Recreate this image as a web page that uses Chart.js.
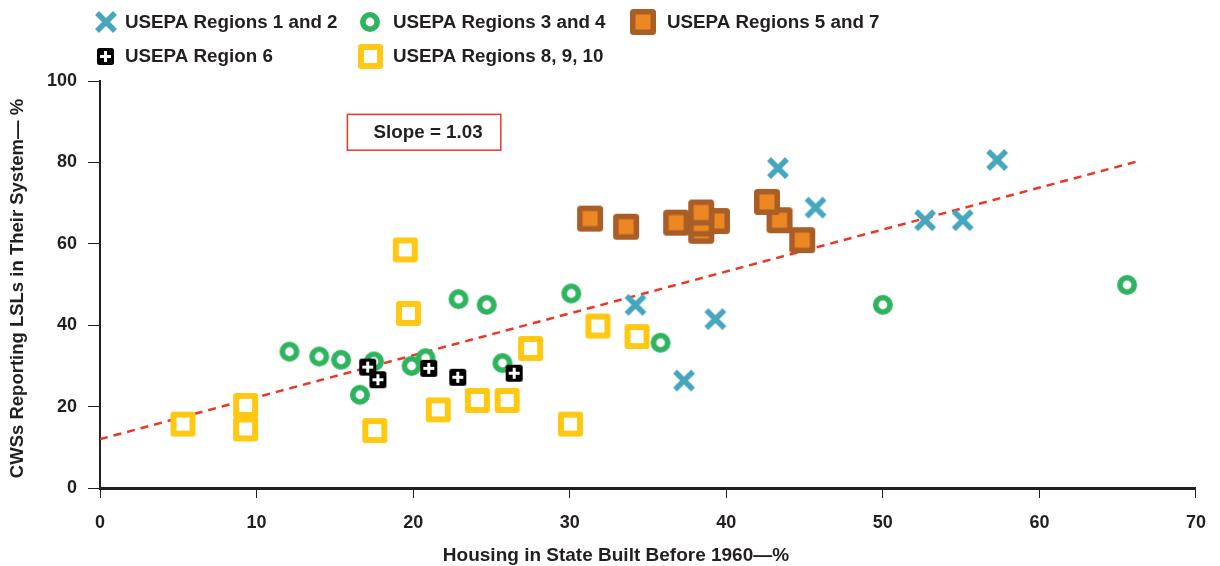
<!DOCTYPE html>
<html>
<head>
<meta charset="utf-8">
<script src="https://cdn.jsdelivr.net/npm/chart.js@4.4.1/dist/chart.umd.min.js"></script>
<style>
  html, body { margin: 0; padding: 0; background: #fff; }
  #wrap { width: 1220px; height: 566px; position: relative; }
</style>
</head>
<body>
<div id="wrap"><canvas id="chart" width="1220" height="566"></canvas></div>
<script>
// ---- data -------------------------------------------------------------
const seriesNames = [
  'USEPA Regions 1 and 2',
  'USEPA Regions 3 and 4',
  'USEPA Regions 5 and 7',
  'USEPA Region 6',
  'USEPA Regions 8, 9, 10'
];

// Housing built before 1960 (%) and CWSs reporting LSLs (%)
const regions12X = [43.3, 57.3, 45.7, 52.7, 55.1, 34.2, 39.3, 37.3];
const regions12Y = [78.6, 80.6, 68.9, 65.8, 65.8, 45.0, 41.5, 26.4];

const regions34X = [12.1, 14.0, 15.4, 17.5, 16.6, 19.9, 20.8, 22.9, 24.7, 25.7, 30.1, 35.8, 50.0, 65.6];
const regions34Y = [33.5, 32.3, 31.5, 31.1, 22.9, 30.0, 31.9, 46.4, 45.0, 30.7, 47.8, 35.7, 45.0, 49.9];

const regions57X = [31.3, 33.6, 36.8, 39.4, 38.4, 38.4, 38.4, 43.4, 42.6, 44.85];
const regions57Y = [66.2, 64.2, 65.2, 65.6, 63.2, 65.0, 67.7, 65.8, 70.3, 60.9];

const region6X = [17.1, 17.75, 21.0, 22.85, 26.45];
const region6Y = [29.7, 26.6, 29.4, 27.2, 28.2];

const regions8910X = [5.3, 9.3, 9.3, 19.5, 19.7, 17.55, 21.6, 24.1, 26.0, 27.5, 30.05, 31.8, 34.3];
const regions8910Y = [15.7, 20.3, 14.5, 58.5, 42.9, 14.1, 19.2, 21.5, 21.5, 34.3, 15.7, 39.8, 37.2];

// fitted trend line
const trendSlope = 1.03;
const trendIntercept = 12.0;
const trendRangeX = [0, 66.2];

const xTicks = [0, 10, 20, 30, 40, 50, 60, 70];
const yTicks = [0, 20, 40, 60, 80, 100];

const xTitle = 'Housing in State Built Before 1960\u2014%';
const yTitle = 'CWSs Reporting LSLs in Their System\u2014 %';
const slopeText = 'Slope = ' + trendSlope.toFixed(2);

// ---- styling ----------------------------------------------------------
const FONT = '"Liberation Sans", Arial, Helvetica, sans-serif';
const INK = '#231f20';
const C_BLUE = '#46a6be';
const C_GREEN = '#2eb45f';
const C_BROWN = '#a95e27';
const C_ORANGE = '#ec8722';
const C_YELLOW = '#ffc812';
const C_RED = '#ee3526';

function pts(xs, ys) { return xs.map((x, i) => ({ x, y: ys[i] })); }

function roundRect(g, x, y, w, h, r) {
  g.beginPath();
  g.moveTo(x + r, y);
  g.arcTo(x + w, y, x + w, y + h, r);
  g.arcTo(x + w, y + h, x, y + h, r);
  g.arcTo(x, y + h, x, y, r);
  g.arcTo(x, y, x + w, y, r);
  g.closePath();
}

function marker(size, draw) {
  const c = document.createElement('canvas');
  c.width = size; c.height = size;
  draw(c.getContext('2d'), size);
  return c;
}

const mkCross = marker(24, (g, s) => {
  g.strokeStyle = C_BLUE; g.lineWidth = 5.5; g.lineCap = 'butt';
  g.beginPath();
  g.moveTo(3, 3); g.lineTo(s - 3, s - 3);
  g.moveTo(s - 3, 3); g.lineTo(3, s - 3);
  g.stroke();
});

const mkRing = marker(22, (g, s) => {
  g.beginPath();
  g.arc(s / 2, s / 2, 7.2, 0, Math.PI * 2);
  g.fillStyle = '#fff'; g.fill();
  g.lineWidth = 5.6; g.strokeStyle = C_GREEN; g.stroke();
});

const mkOrange = marker(28, (g, s) => {
  roundRect(g, 1, 1, 26, 26, 3.5);
  g.fillStyle = C_BROWN; g.fill();
  g.fillStyle = C_ORANGE;
  g.fillRect(6.5, 6.5, 15, 15);
});

const mkYellow = marker(27, (g, s) => {
  roundRect(g, 1, 1, 25, 25, 3);
  g.fillStyle = C_YELLOW; g.fill();
  g.fillStyle = '#fff';
  g.fillRect(7, 7, 13, 13);
});

const mkPlus = marker(19, (g, s) => {
  roundRect(g, 1, 1, 17, 17, 2.5);
  g.fillStyle = '#000'; g.fill();
  g.fillStyle = '#fff';
  g.fillRect(4, 8, 11, 3);
  g.fillRect(8, 4, 3, 11);
});

// ---- plugins ----------------------------------------------------------
const legendItems = [
  { icon: mkCross,  label: seriesNames[0], cx: 106, tx: 125, cy: 22 },
  { icon: mkRing,   label: seriesNames[1], cx: 370, tx: 393, cy: 22 },
  { icon: mkOrange, label: seriesNames[2], cx: 643, tx: 667, cy: 22 },
  { icon: mkPlus,   label: seriesNames[3], cx: 105, tx: 125, cy: 56 },
  { icon: mkYellow, label: seriesNames[4], cx: 370, tx: 393, cy: 56 }
];

const topLegend = {
  id: 'topLegend',
  afterDraw(chart) {
    const g = chart.ctx;
    g.save();
    g.font = 'bold 18.8px ' + FONT;
    g.fillStyle = INK;
    g.textBaseline = 'middle';
    g.textAlign = 'left';
    legendItems.forEach(it => {
      g.drawImage(it.icon, Math.round(it.cx - it.icon.width / 2), Math.round(it.cy - it.icon.height / 2));
      g.fillText(it.label, it.tx, it.cy + 1);
    });
    g.restore();
  }
};

const slopeBox = {
  id: 'slopeBox',
  afterDatasetsDraw(chart) {
    const { x, y } = chart.scales;
    const g = chart.ctx;
    const l = x.getPixelForValue(15.8), r = x.getPixelForValue(25.6);
    const t = y.getPixelForValue(91.8), b = y.getPixelForValue(83.0);
    g.save();
    g.fillStyle = '#fff';
    g.fillRect(l, t, r - l, b - t);
    g.strokeStyle = C_RED; g.lineWidth = 1.5;
    g.strokeRect(l, t, r - l, b - t);
    g.font = 'bold 18.8px ' + FONT;
    g.fillStyle = INK;
    g.textAlign = 'center';
    g.textBaseline = 'middle';
    g.fillText(slopeText, (l + r) / 2 + 4, (t + b) / 2 + 1);
    g.restore();
  }
};

const axisTitles = {
  id: 'axisTitles',
  afterDraw(chart) {
    const g = chart.ctx;
    const a = chart.chartArea;
    g.save();
    g.font = 'bold 19px ' + FONT;
    g.fillStyle = INK;
    g.textAlign = 'center';
    g.textBaseline = 'middle';
    g.fillText(xTitle, 616, 556);
    g.font = 'bold 18.5px ' + FONT;
    g.translate(18, (a.top + a.bottom) / 2 + 4);
    g.rotate(-Math.PI / 2);
    g.fillText(yTitle, 0, 0);
    g.restore();
  }
};

// ---- chart ------------------------------------------------------------
const tickFont = { family: FONT, size: 18, weight: 'bold' };

new Chart(document.getElementById('chart'), {
  type: 'scatter',
  data: {
    datasets: [
      { label: seriesNames[3], data: pts(region6X, region6Y), pointStyle: mkPlus },
      { label: seriesNames[0], data: pts(regions12X, regions12Y), pointStyle: mkCross },
      { label: seriesNames[1], data: pts(regions34X, regions34Y), pointStyle: mkRing },
      { label: seriesNames[2], data: pts(regions57X, regions57Y), pointStyle: mkOrange },
      { label: seriesNames[4], data: pts(regions8910X, regions8910Y), pointStyle: mkYellow },
      {
        type: 'line',
        label: 'Trend',
        data: trendRangeX.map(x => ({ x, y: trendIntercept + trendSlope * x })),
        borderColor: C_RED,
        borderWidth: 2.5,
        borderDash: [8, 6],
        pointRadius: 0,
        fill: false
      }
    ]
  },
  options: {
    responsive: false,
    animation: false,
    events: [],
    layout: { padding: { top: 81, right: 18, left: 0, bottom: 0 } },
    plugins: {
      legend: { display: false },
      tooltip: { enabled: false }
    },
    scales: {
      x: {
        type: 'linear',
        min: 0, max: 70,
        afterBuildTicks(s) { s.ticks = xTicks.map(v => ({ value: v })); },
        afterFit(s) { s.height = 78; },
        ticks: { font: tickFont, color: INK, padding: 14, maxRotation: 0 },
        grid: { drawOnChartArea: false, drawTicks: true, tickLength: 10, color: INK, lineWidth: 1 },
        border: { display: true, color: INK, width: 3 }
      },
      y: {
        min: 0, max: 100,
        afterBuildTicks(s) { s.ticks = yTicks.map(v => ({ value: v })); },
        afterFit(s) { s.width = 100; },
        ticks: { font: tickFont, color: INK, padding: 11 },
        grid: { drawOnChartArea: false, drawTicks: true, tickLength: 12, color: INK, lineWidth: 1 },
        border: { display: true, color: INK, width: 2 }
      }
    }
  },
  plugins: [slopeBox, axisTitles, topLegend]
});
</script>
</body>
</html>
